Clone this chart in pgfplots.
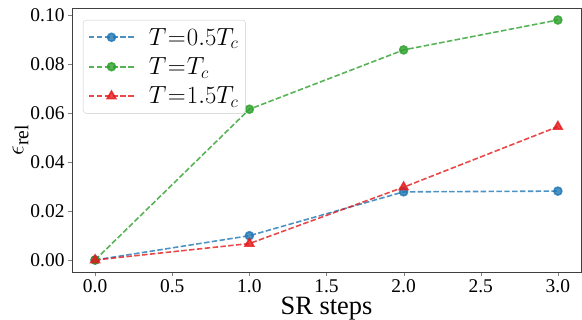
\documentclass[border=0pt]{standalone}
\usepackage{pgfplots}
\pgfplotsset{compat=1.18}
\usepackage{fontspec}
\setmainfont{Liberation Serif}
\definecolor{cblue}{RGB}{31,119,180}
\definecolor{cgreen}{RGB}{44,160,44}
\definecolor{cred}{RGB}{228,26,28}
\begin{document}
\begin{tikzpicture}[x=1bp,y=1bp]
\begin{axis}[
  at={(72bp,48bp)}, anchor=south west,
  scale only axis, width=509bp, height=264bp,
  xmin=-0.15, xmax=3.15, ymin=-0.0049, ymax=0.1028,
  xtick={0,0.5,...,3}, ytick={0,0.02,...,0.1},
  xticklabel style={/pgf/number format/.cd,fixed,fixed zerofill,precision=1},
  yticklabel style={/pgf/number format/.cd,fixed,fixed zerofill,precision=2},
  /pgf/number format/assume math mode=true,
  tick label style={font=\fontsize{19.5}{21}\selectfont},
  tick align=outside, tick pos=left,
  major tick length=4bp,
  axis line style={black!75, line width=0.8pt},
  xlabel={SR steps}, ylabel={$\epsilon_{\mathrm{rel}}$},
  xlabel style={font=\fontsize{26.5}{28}\selectfont, inner sep=1bp, yshift=0bp},
  ylabel style={font=\fontsize{28}{30}\selectfont, yshift=-5bp},
  legend style={at={(0.0216,0.955)}, anchor=north west, draw=black!20, rounded corners=3bp,
    font=\fontsize{23}{25}\selectfont, row sep=7bp, column sep=12bp, inner xsep=5bp, inner ysep=6bp, fill=white, fill opacity=0.8, text opacity=1},
  legend cell align=left,
  legend image code/.code={
    \draw[mark repeat=2,mark phase=2,#1] plot coordinates {(0bp,0bp) (22.5bp,0bp) (45bp,0bp)};
  },
  every axis plot/.append style={line width=1.6pt, dash pattern=on 5.5pt off 2.4pt, opacity=0.8},
]
\addplot[color=cblue, mark=*, mark size=4bp, mark options={solid}] coordinates {(0,0) (1,0.0099) (2,0.0278) (3,0.0281)};
\addlegendentry{$\thickmuskip=1mu T=0.5T_c$}
\addplot[color=cgreen, mark=*, mark size=4bp, mark options={solid}] coordinates {(0,0) (1,0.0615) (2,0.0857) (3,0.0979)};
\addlegendentry{$\thickmuskip=1mu T=T_c$}
\addplot[color=cred, mark=triangle*, mark size=5bp, mark options={solid}] coordinates {(0,0) (1,0.0067) (2,0.0297) (3,0.0544)};
\addlegendentry{$\thickmuskip=1mu T=1.5T_c$}
\end{axis}
\pgfresetboundingbox
\path[use as bounding box] (0,0) rectangle (582bp,320bp);
\end{tikzpicture}
\end{document}
